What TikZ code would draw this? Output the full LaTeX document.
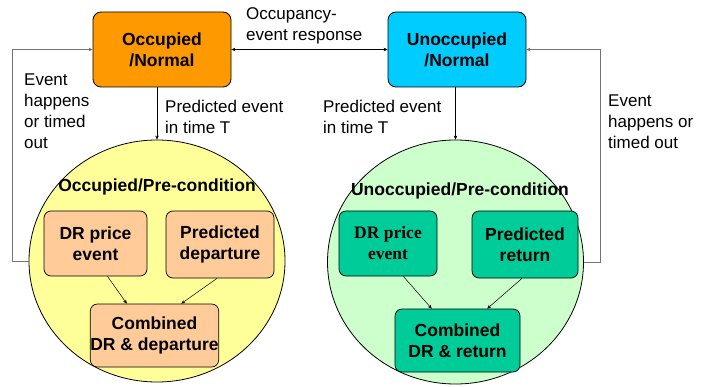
\documentclass[tikz,border=0pt]{standalone}
\usepackage{fontspec}
\setmainfont{Liberation Sans}
\newfontfamily\timesbold{Liberation Serif}
\usetikzlibrary{arrows.meta, positioning}
\usetikzlibrary{shapes.geometric}
\usepackage{xcolor}
\definecolor{occorange}{HTML}{FF9900}
\definecolor{unoccblue}{HTML}{00CCFF}
\definecolor{occyellow}{HTML}{FFFF99}
\definecolor{occpeach}{HTML}{FFCC99}
\definecolor{unoccmint}{HTML}{CCFFCC}
\definecolor{unoccteal}{HTML}{00CC99}

\begin{document}
\begin{tikzpicture}[x=1pt, y=-1pt,
    every node/.style={font=\fontsize{17}{21}\selectfont},
    state/.style={draw, rounded corners=8pt, line width=0.8pt,
        minimum width=138pt, minimum height=75pt, align=center,
        font=\fontsize{17.5}{21}\selectfont\bfseries},
    zone/.style={draw, ellipse, line width=0.8pt, inner sep=0pt,
        minimum width=256pt},
    sub/.style={draw, rounded corners=7pt, line width=0.7pt, align=center,
        inner sep=0pt, font=\fontsize{17.5}{21}\selectfont\bfseries},
    lbl/.style={align=left, anchor=west, inner sep=0pt},
    link/.style={-{Stealth[length=4pt,width=3.5pt]}, line width=0.5pt},
    loopline/.style={link, draw=black!55}]
    \useasboundingbox (0,0) rectangle (711,387);

    % normal states
    \node[state, fill=occorange] (occ) at (162,49.5) {Occupied\\/Normal};
    \node[state, fill=unoccblue] (unocc) at (457,49.5) {Unoccupied\\/Normal};

    % pre-condition zones
    \node[zone, fill=occyellow, minimum height=242pt] (ypre) at (157,261) {};
    \node[zone, fill=unoccmint, minimum height=244pt] (gpre) at (455.5,262) {};
    \node[font=\fontsize{17.5}{21}\selectfont\bfseries] (ytitle) at (157,187) {Occupied/Pre-condition};
    \node[font=\fontsize{17.5}{21}\selectfont\bfseries] (gtitle) at (460,191) {Unoccupied/Pre-condition};

    % occupied sub states
    \node[sub, fill=occpeach, minimum width=103pt, minimum height=65pt] (drocc) at (95.5,243.5) {DR price\\event};
    \node[sub, fill=occpeach, minimum width=108pt, minimum height=67pt] (depart) at (220,244.5) {Predicted\\departure};
    \node[sub, fill=occpeach, minimum width=125pt, minimum height=63pt] (combocc) at (154.5,335.5) {Combined\\DR \& departure};

    % unoccupied sub states
    \node[sub, fill=unoccteal, minimum width=98pt, minimum height=65pt,
        font=\fontsize{17.5}{21}\timesbold\bfseries] (drunocc) at (388,243.5) {DR price\\event};
    \node[sub, fill=unoccteal, minimum width=106pt, minimum height=67pt] (return) at (525,244.5) {Predicted\\return};
    \node[sub, fill=unoccteal, minimum width=125pt, minimum height=63pt] (combunocc) at (457.5,340.5) {Combined\\DR \& return};

    % labels
    \node[lbl] (resp) at (246,26) {Occupancy-\\event response};
    \node[lbl] (predl) at (165,117) {Predicted event\\in time T};
    \node[lbl] (predr) at (323,117) {Predicted event\\in time T};
    \node[lbl] (backl) at (24,111) {Event\\happens\\or timed\\out};
    \node[lbl] (backr) at (608,122) {Event\\happens or\\timed out};

    % transitions
    \draw[link, {Stealth[length=4pt,width=3.5pt]}-{Stealth[length=4pt,width=3.5pt]}] (occ.east) -- (unocc.west);
    \draw[link] (occ.south -| ypre.north) -- (ypre.north);
    \draw[link] (unocc.south -| gpre.north) -- (gpre.north);
    \draw[loopline] (ypre.west) -- ++(-16,0) |- (occ.west);
    \draw[loopline] (gpre.east) -- ++(16.5,0) |- (unocc.east);

    \draw[link] (drocc.290) -- (combocc.131);
    \draw[link] (depart.265) -- (combocc.50);
    \draw[link] (drunocc.295) -- (combunocc.129);
    \draw[link] (return.265) -- (combunocc.47);
\end{tikzpicture}
\end{document}
